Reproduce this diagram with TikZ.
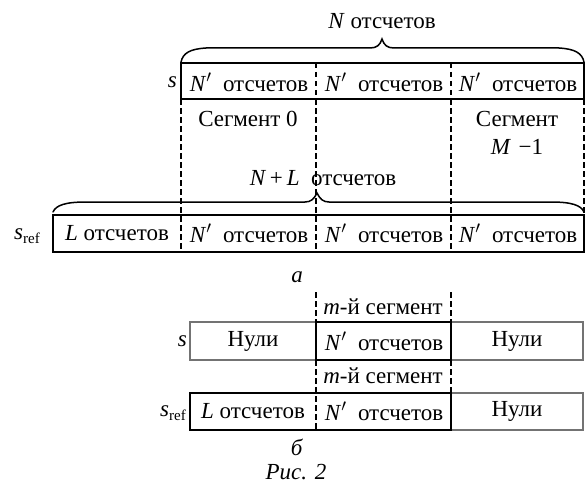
\documentclass[tikz,border=0pt]{standalone}
\usepackage{fontspec}
\setmainfont{Liberation Serif}
\begin{document}
\begin{tikzpicture}[x=1pt,y=-1pt,
  txt/.style={inner sep=0pt, font=\fontsize{23}{25}\selectfont},
  frame/.style={line width=1.9pt, draw=black},
  zero/.style={line width=1.9pt, draw=black!55},
  seg/.style={dashed, dash pattern=on 5.5pt off 3.5pt, line width=1.2pt},
  brace/.style={line width=1.5pt, line cap=round}]
\useasboundingbox (0,0) rectangle (585,484);
\newcommand{\Np}{\textit{N}$'$\enspace отсчетов}

% ---------- a) ----------
% grid of the signal s
\coordinate (t0) at (181,63);  \coordinate (t1) at (316,63);
\coordinate (t2) at (451,63);  \coordinate (t3) at (584,63);
\coordinate (tb0) at (181,99); \coordinate (tb3) at (584,99);
% grid of the reference signal
\coordinate (r0) at (53,215);  \coordinate (r4) at (584,215);
\coordinate (rb0) at (53,252); \coordinate (rb1) at (181,252);
\coordinate (rb2) at (316,252); \coordinate (rb3) at (451,252);
\coordinate (rb4) at (584,252);

% segment borders
\draw[seg] (t1) -- (rb2);
\draw[seg] (t2) -- (rb3);
\draw[seg] (tb0) -- (rb1);
\draw[seg] (tb3) -- (r4);

% frames
\draw[frame] (t0) rectangle (tb3);
\draw[frame] (r0) rectangle (rb4);

% braces
\draw[brace] (181,62) .. controls (183,53) and (190,49) .. (206,48)
  -- (370,48) .. controls (377,48) and (380,45) .. (382,39)
  .. controls (384,45) and (387,48) .. (394,48)
  -- (559,48) .. controls (575,49) and (582,53) .. (584,62);
\draw[brace] (53,212) .. controls (56,205) and (66,202) .. (86,202)
  -- (305,202) .. controls (311,202) and (314,199) .. (317,193)
  .. controls (320,199) and (323,202) .. (329,202)
  -- (551,202) .. controls (571,202) and (581,205) .. (584,212);

\node[txt] (ntot) at (382,21) {\textit{N} отсчетов};
\node[txt, anchor=east] (s1) at (177,82) {\textit{s}};
\node[txt] (a1) at (249,82) {\Np};
\node[txt] (a2) at (384,82) {\Np};
\node[txt] (a3) at (518,82) {\Np};
\node[txt] (seg0) at (248,119) {Сегмент 0};
\node[txt] (segM) at (517,119) {Сегмент};
\node[txt] (segM1) at (517,147) {\textit{M}\,\,−1};
\node[txt] (nl) at (323,178) {\textit{N}\,+\,\textit{L}\enspace отсчетов};
\node[txt] (sr1) at (27,236) {\textit{s}\raisebox{-0.4ex}{\fontsize{15}{16}\selectfont ref}};
\node[txt] (b0) at (117,233) {\textit{L} отсчетов};
\node[txt] (b1) at (249,233) {\Np};
\node[txt] (b2) at (384,233) {\Np};
\node[txt] (b3) at (518,233) {\Np};
\node[txt] (capa) at (297,277) {\textit{а}};

% ---------- b) ----------
\coordinate (m0) at (316,292); \coordinate (m1) at (451,292);
\coordinate (u0) at (190,322); \coordinate (u1) at (316,322);
\coordinate (u2) at (451,322); \coordinate (u3) at (583,322);
\coordinate (ub0) at (190,360); \coordinate (ub1) at (316,360);
\coordinate (ub2) at (451,360); \coordinate (ub3) at (583,360);
\coordinate (v0) at (190,393); \coordinate (v1) at (316,393);
\coordinate (v2) at (451,393); \coordinate (v3) at (583,393);
\coordinate (vb0) at (190,430); \coordinate (vb1) at (316,430);
\coordinate (vb2) at (451,430); \coordinate (vb3) at (583,430);

\draw[seg] (m0) -- (u1);
\draw[seg] (m1) -- (u2);
\draw[seg] (ub1) -- (vb1);
\draw[seg] (ub2) -- (v2);

\draw[zero] (u0) rectangle (ub1);
\draw[zero] (u2) rectangle (ub3);
\draw[frame] (u1) rectangle (ub2);
\draw[zero] (v2) rectangle (vb3);
\draw[frame] (v0) -- (v2) -- (vb2) -- (vb0) -- cycle;

\node[txt] (ms1) at (383,307) {\textit{m}-й сегмент};
\node[txt, anchor=east] (s2) at (187,341) {\textit{s}};
\node[txt] (z1) at (253,341) {Нули};
\node[txt] (c1) at (384,341) {\Np};
\node[txt] (z2) at (517,341) {Нули};
\node[txt] (ms2) at (383,376) {\textit{m}-й сегмент};
\node[txt, anchor=east] (sr2) at (186,413) {\textit{s}\raisebox{-0.4ex}{\fontsize{15}{16}\selectfont ref}};
\node[txt] (d0) at (253,411) {\textit{L} отсчетов};
\node[txt] (d1) at (384,411) {\Np};
\node[txt] (z3) at (517,411) {Нули};
\node[txt] (capb) at (297,447) {\textit{б}};
\node[txt] (fig) at (296,472) {\textit{Рис. 2}};
\end{tikzpicture}
\end{document}
